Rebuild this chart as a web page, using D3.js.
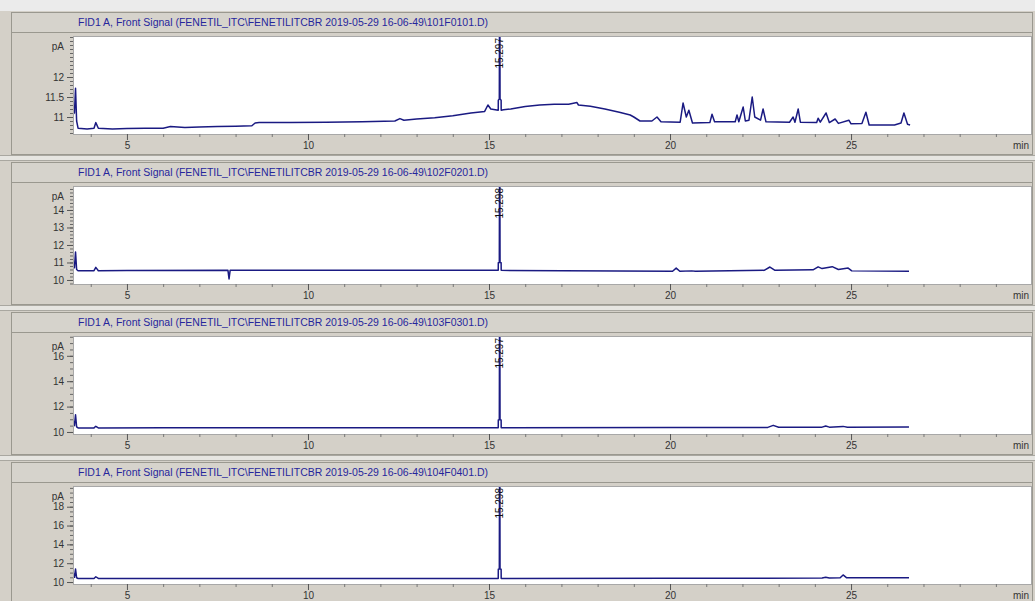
<!DOCTYPE html>
<html>
<head>
<meta charset="utf-8">
<script src="https://d3js.org/d3.v7.min.js"></script>
<style>
  body { margin: 0; background: #d4d0c8; }
  svg { display: block; font-family: "Liberation Sans", Arial, sans-serif; }
</style>
</head>
<body>
<script>
// ---- data ----
var titles = [
  "FID1 A, Front Signal (FENETIL_ITC\\FENETILITCBR 2019-05-29 16-06-49\\101F0101.D)",
  "FID1 A, Front Signal (FENETIL_ITC\\FENETILITCBR 2019-05-29 16-06-49\\102F0201.D)",
  "FID1 A, Front Signal (FENETIL_ITC\\FENETILITCBR 2019-05-29 16-06-49\\103F0301.D)",
  "FID1 A, Front Signal (FENETIL_ITC\\FENETILITCBR 2019-05-29 16-06-49\\104F0401.D)"
];
var peakTimes = [15.297, 15.298, 15.297, 15.298];
var peakLabels = ["15.297", "15.298", "15.297", "15.298"];

var xMajor = [5, 10, 15, 20, 25];
var xMinor = [4, 6, 7, 8, 9, 11, 12, 13, 14, 16, 17, 18, 19, 21, 22, 23, 24, 26, 27, 28, 29];

var yTicks1 = [11, 11.5, 12];
var yTicks2 = [10, 11, 12, 13, 14];
var yTicks3 = [10, 12, 14, 16];
var yTicks4 = [10, 12, 14, 16, 18];

// [retention time (min), signal (pA)]
var trace1 = [
  [3.51, 10.95], [3.53, 11.2], [3.55, 11.1], [3.58, 11.72], [3.61, 10.9], [3.65, 10.72],
  [3.9, 10.7], [4.09, 10.72], [4.14, 10.86], [4.21, 10.72], [4.6, 10.7], [5.0, 10.71],
  [5.5, 10.72], [6.0, 10.72], [6.2, 10.76], [6.6, 10.74], [7.0, 10.75], [7.5, 10.76],
  [8.0, 10.77], [8.45, 10.78], [8.54, 10.85], [8.65, 10.86], [9.5, 10.86], [10.5, 10.87],
  [11.5, 10.88], [12.4, 10.9], [12.54, 10.96], [12.65, 10.92], [13.0, 10.95], [13.5, 10.98],
  [14.0, 11.03], [14.5, 11.1], [14.88, 11.14], [14.97, 11.3], [15.05, 11.2], [15.255, 11.17],
  [15.257, 11.42], [15.285, 11.45], [15.29, 13.6], [15.30, 13.6], [15.305, 11.45],
  [15.335, 11.42], [15.337, 11.17],
  [15.4, 11.18], [15.6, 11.2], [16.0, 11.26], [16.4, 11.3], [16.8, 11.32], [17.2, 11.32],
  [17.43, 11.36], [17.47, 11.3], [17.8, 11.27], [18.2, 11.2], [18.6, 11.12], [18.9, 11.05],
  [19.0, 11.0], [19.17, 10.9], [19.5, 10.9], [19.64, 11.0], [19.75, 10.88], [20.28, 10.87],
  [20.36, 11.35], [20.45, 11.0], [20.52, 11.17], [20.62, 10.85], [21.1, 10.86], [21.16, 11.07],
  [21.23, 10.88], [21.8, 10.88], [21.85, 11.05], [21.9, 10.88], [22.02, 11.25], [22.08, 10.9],
  [22.18, 10.92], [22.27, 11.5], [22.34, 11.0], [22.5, 10.92], [22.57, 11.2], [22.65, 10.88],
  [23.3, 10.87], [23.4, 11.0], [23.45, 10.87], [23.54, 11.2], [23.6, 10.87], [24.05, 10.86],
  [24.09, 10.97], [24.15, 10.87], [24.31, 11.1], [24.4, 10.86], [24.56, 10.95], [24.65, 10.84],
  [24.94, 10.92], [25.0, 10.83], [25.3, 10.84], [25.41, 11.12], [25.5, 10.8], [26.2, 10.8],
  [26.38, 10.85], [26.46, 11.1], [26.56, 10.82], [26.63, 10.8]
];
var trace2 = [
  [3.51, 10.9], [3.53, 11.0], [3.55, 10.7], [3.58, 11.6], [3.61, 10.6], [3.65, 10.53],
  [4.09, 10.53], [4.14, 10.72], [4.21, 10.53], [5.0, 10.54], [7.79, 10.55], [7.82, 10.06],
  [7.85, 10.55], [10.0, 10.55], [15.255, 10.55], [15.257, 10.98], [15.285, 11.0],
  [15.29, 16.0], [15.30, 16.0], [15.305, 11.0], [15.335, 10.98], [15.337, 10.55],
  [20.07, 10.5], [20.17, 10.68], [20.27, 10.5], [20.6, 10.52], [20.7, 10.5], [22.6, 10.55],
  [22.76, 10.74], [22.9, 10.55], [23.95, 10.58], [24.09, 10.75], [24.2, 10.65], [24.48, 10.76],
  [24.65, 10.6], [24.92, 10.68], [25.02, 10.52], [26.6, 10.5]
];
var trace3 = [
  [3.51, 10.5], [3.53, 10.8], [3.55, 10.5], [3.58, 11.35], [3.61, 10.4], [3.65, 10.32],
  [4.09, 10.32], [4.14, 10.45], [4.21, 10.32], [6.0, 10.33], [10.0, 10.33], [15.255, 10.33],
  [15.257, 10.95], [15.285, 10.97], [15.29, 18.0], [15.30, 18.0], [15.305, 10.97],
  [15.335, 10.95], [15.337, 10.33],
  [20.0, 10.35], [22.7, 10.36], [22.85, 10.52], [23.0, 10.37], [24.2, 10.38], [24.3, 10.47],
  [24.4, 10.38], [24.78, 10.44], [24.9, 10.38], [26.6, 10.4]
];
var trace4 = [
  [3.51, 10.5], [3.53, 10.85], [3.55, 10.5], [3.58, 11.38], [3.61, 10.45], [3.65, 10.38],
  [4.09, 10.38], [4.14, 10.56], [4.21, 10.38], [10.0, 10.38], [15.255, 10.38],
  [15.257, 11.35], [15.285, 11.38], [15.29, 21.0], [15.30, 21.0], [15.305, 11.38],
  [15.335, 11.35], [15.337, 10.38],
  [20.0, 10.4], [24.2, 10.42], [24.3, 10.5], [24.4, 10.43], [24.7, 10.45], [24.78, 10.75],
  [24.88, 10.45], [26.6, 10.45]
];

var traces = [trace1, trace2, trace3, trace4];
var yTicks = [yTicks1, yTicks2, yTicks3, yTicks4];
var yDomains = [[10.575, 13.025], [9.77, 15.37], [9.84, 17.56], [9.79, 20.2]];
var yMinorStep = [0.1, 0.2, 0.5, 0.5];

// ---- layout ----
var W = 1035, H = 601;
var plotL = 73, plotR = 1031;
var panelStep = 150;

var svg = d3.select("body").append("svg")
    .attr("width", W)
    .attr("height", H);

svg.append("rect").attr("width", W).attr("height", H).attr("fill", "#d4d0c8");
svg.append("rect").attr("width", W).attr("height", 11).attr("fill", "#ebebeb");

var x = d3.scaleLinear().domain([3.51, 29.97]).range([plotL, plotR]);

titles.forEach(function(title, i) {
    var o = i * panelStep;
    var g = svg.append("g").attr("transform", "translate(0," + o + ")");

    // gap strip above panel
    if (i > 0) {
        g.append("rect").attr("x", 0).attr("y", 5).attr("width", W).attr("height", 6)
            .attr("fill", "#e6e5e1");
        g.append("line").attr("x1", 0).attr("x2", W).attr("y1", 5.5).attr("y2", 5.5)
            .attr("stroke", "#a9a7a0");
        g.append("line").attr("x1", 0).attr("x2", W).attr("y1", 10.5).attr("y2", 10.5)
            .attr("stroke", "#a9a7a0");
    }

    // outer frame + title bar
    g.append("rect").attr("x", 11.5).attr("y", 12.5).attr("width", 1021).attr("height", 142)
        .attr("fill", "#d4d0c8").attr("stroke", "#9a988f");
    g.append("rect").attr("x", 11.5).attr("y", 12.5).attr("width", 1021).attr("height", 20)
        .attr("fill", "#d6d3cc").attr("stroke", "#9a988f");
    g.append("text")
        .attr("x", 78).attr("y", 26)
        .attr("font-size", 10)
        .attr("fill", "#26269c")
        .attr("textLength", 410)
        .attr("lengthAdjust", "spacingAndGlyphs")
        .text(title);

    // plot area
    var top = 36, bottom = 134;
    g.append("rect").attr("x", plotL + 0.5).attr("y", top + 0.5)
        .attr("width", plotR - plotL).attr("height", bottom - top)
        .attr("fill", "#ffffff").attr("stroke", "#a8a8a8");

    var y = d3.scaleLinear().domain(yDomains[i]).range([bottom, top]);

    // y axis: minor then major
    var minor = d3.range(Math.ceil(yDomains[i][0] / yMinorStep[i]) * yMinorStep[i],
                         yDomains[i][1], yMinorStep[i]);
    g.append("g")
        .attr("transform", "translate(" + plotL + ",0)")
        .call(d3.axisLeft(y).tickValues(minor).tickSize(3).tickFormat(""))
        .call(a => a.select(".domain").remove())
        .call(a => a.selectAll("line").attr("stroke", "#666"));
    g.append("g")
        .attr("transform", "translate(" + plotL + ",0)")
        .call(d3.axisLeft(y).tickValues(yTicks[i]).tickSize(6).tickPadding(3)
            .tickFormat(d3.format("")))
        .call(a => a.select(".domain").remove())
        .call(a => a.selectAll("line").attr("stroke", "#555"))
        .call(a => a.selectAll("text").attr("font-size", 10).attr("fill", "#333")
            .attr("font-family", "Liberation Sans, Arial, sans-serif"));
    g.append("text").attr("x", 64).attr("y", 46).attr("dy", "0.35em")
        .attr("text-anchor", "end").attr("font-size", 10).attr("fill", "#333")
        .text("pA");

    // x axis: minor then major
    g.append("g")
        .attr("transform", "translate(0," + bottom + ")")
        .call(d3.axisBottom(x).tickValues(xMinor).tickSize(3).tickFormat(""))
        .call(a => a.select(".domain").remove())
        .call(a => a.selectAll("line").attr("stroke", "#777"));
    g.append("g")
        .attr("transform", "translate(0," + bottom + ")")
        .call(d3.axisBottom(x).tickValues(xMajor).tickSize(6).tickPadding(2))
        .call(a => a.select(".domain").remove())
        .call(a => a.selectAll("line").attr("stroke", "#555"))
        .call(a => a.selectAll("text").attr("font-size", 10).attr("fill", "#333")
            .attr("font-family", "Liberation Sans, Arial, sans-serif"));
    g.append("text").attr("x", 1029).attr("y", 149)
        .attr("text-anchor", "end").attr("font-size", 10).attr("fill", "#333")
        .text("min");

    // trace
    var clipId = "clip" + i;
    g.append("clipPath").attr("id", clipId)
        .append("rect").attr("x", plotL + 1).attr("y", top + 1)
        .attr("width", plotR - plotL - 1).attr("height", bottom - top - 1);

    var line = d3.line().x(d => x(d[0])).y(d => y(d[1]));
    g.append("path")
        .datum(traces[i])
        .attr("clip-path", "url(#" + clipId + ")")
        .attr("fill", "none")
        .attr("stroke", "#1a1a82")
        .attr("stroke-width", 1.5)
        .attr("stroke-linejoin", "round")
        .attr("d", line);

    // peak label
    g.append("text")
        .attr("transform", "translate(" + x(peakTimes[i]) + "," + (top + 2) + ") rotate(-90)")
        .attr("text-anchor", "end")
        .attr("dy", "0.35em")
        .attr("font-size", 10)
        .attr("fill", "#111")
        .text(peakLabels[i]);
});
</script>
</body>
</html>
